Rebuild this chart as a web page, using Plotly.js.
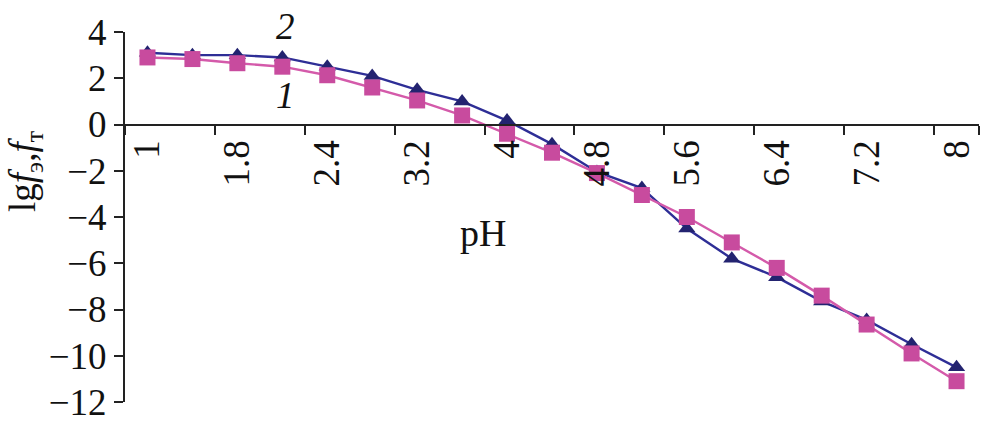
<!DOCTYPE html>
<html>
<head>
<meta charset="utf-8">
<script src="https://cdn.plot.ly/plotly-3.0.1.min.js"></script>
<style>html,body{margin:0;padding:0;background:#fff;}#chart{width:986px;height:438px;}</style>
</head>
<body>
<div id="chart"></div>
<script>
// pH categories (every other one labelled on the axis)
const phCategories = ["1","1.4","1.8","2.1","2.4","2.8","3.2","3.6","4","4.4","4.8","5.2","5.6","6","6.4","6.8","7.2","7.6","8"];
const tickLabels   = ["1","1.8","2.4","3.2","4","4.8","5.6","6.4","7.2","8"];
// curve 1 (squares) and curve 2 (triangles)
const series1 = [2.9, 2.83, 2.65, 2.5, 2.13, 1.6, 1.04, 0.39, -0.4, -1.22, -2.1, -3.05, -4.0, -5.1, -6.2, -7.4, -8.65, -9.9, -11.1];
const series2 = [3.1, 3.0, 3.0, 2.9, 2.5, 2.1, 1.5, 1.0, 0.17, -0.85, -2.05, -2.75, -4.5, -5.8, -6.6, -7.65, -8.45, -9.5, -10.5];
const seriesNames = ["1", "2"];

const FONT = "Liberation Serif, Times New Roman, serif";
const labelledCats = phCategories.filter((c, i) => i % 2 === 0);

const traces = [
  {
    x: phCategories, y: series2, name: seriesNames[1], type: "scatter", mode: "lines+markers",
    line: {color: "#2e2e96", width: 2.4},
    marker: {symbol: "triangle-up", size: 15, color: "#232370"}
  },
  {
    x: phCategories, y: series1, name: seriesNames[0], type: "scatter", mode: "lines+markers",
    line: {color: "#d45aaa", width: 2.4},
    marker: {symbol: "square", size: 16, color: "#c84b9e"}
  }
];

const layout = {
  width: 986, height: 438,
  margin: {l: 125, r: 7, t: 32, b: 36},
  paper_bgcolor: "#fff", plot_bgcolor: "#fff",
  showlegend: false,
  font: {family: FONT, size: 37, color: "#111"},
  xaxis: {
    type: "category",
    range: [-0.5, phCategories.length - 0.5],
    anchor: "free", position: 0.75,
    tickmode: "array", tickvals: labelledCats, ticktext: tickLabels,
    tickson: "boundaries",
    ticks: "outside", ticklen: 9, tickwidth: 2, tickcolor: "#222",
    tickangle: -90,
    showline: true, linecolor: "#222", linewidth: 2,
    showgrid: false, zeroline: false,
    tickfont: {family: FONT, size: 37, color: "#111"}
  },
  yaxis: {
    range: [-12, 4],
    tickmode: "linear", tick0: -12, dtick: 2,
    ticks: "outside", ticklen: 9, tickwidth: 2, tickcolor: "#222",
    showline: true, linecolor: "#222", linewidth: 2,
    showgrid: false, zeroline: false,
    tickfont: {family: FONT, size: 37, color: "#111"}
  },
  annotations: [
    {text: "pH", xref: "paper", yref: "paper", x: (483 - 125) / 854, y: (402 - 233) / 370,
     xanchor: "center", yanchor: "middle", showarrow: false, font: {family: FONT, size: 38, color: "#111"}},
    {text: "lg<i>f</i><sub>э</sub>,<i>f</i><sub>т</sub>", xref: "paper", yref: "paper",
     x: -(125 - 25) / 854, y: (402 - 172) / 370, xanchor: "center", yanchor: "middle",
     textangle: -90, showarrow: false, font: {family: FONT, size: 37, color: "#111"}},
    {text: "<i>2</i>", xref: "paper", yref: "paper", x: (285 - 125) / 854, y: (402 - 27) / 370,
     xanchor: "center", yanchor: "middle", showarrow: false, font: {family: FONT, size: 37, color: "#111"}},
    {text: "<i>1</i>", xref: "paper", yref: "paper", x: (285 - 125) / 854, y: (402 - 95) / 370,
     xanchor: "center", yanchor: "middle", showarrow: false, font: {family: FONT, size: 37, color: "#111"}}
  ]
};

Plotly.newPlot("chart", traces, layout, {displayModeBar: false, staticPlot: true});
</script>
</body>
</html>
